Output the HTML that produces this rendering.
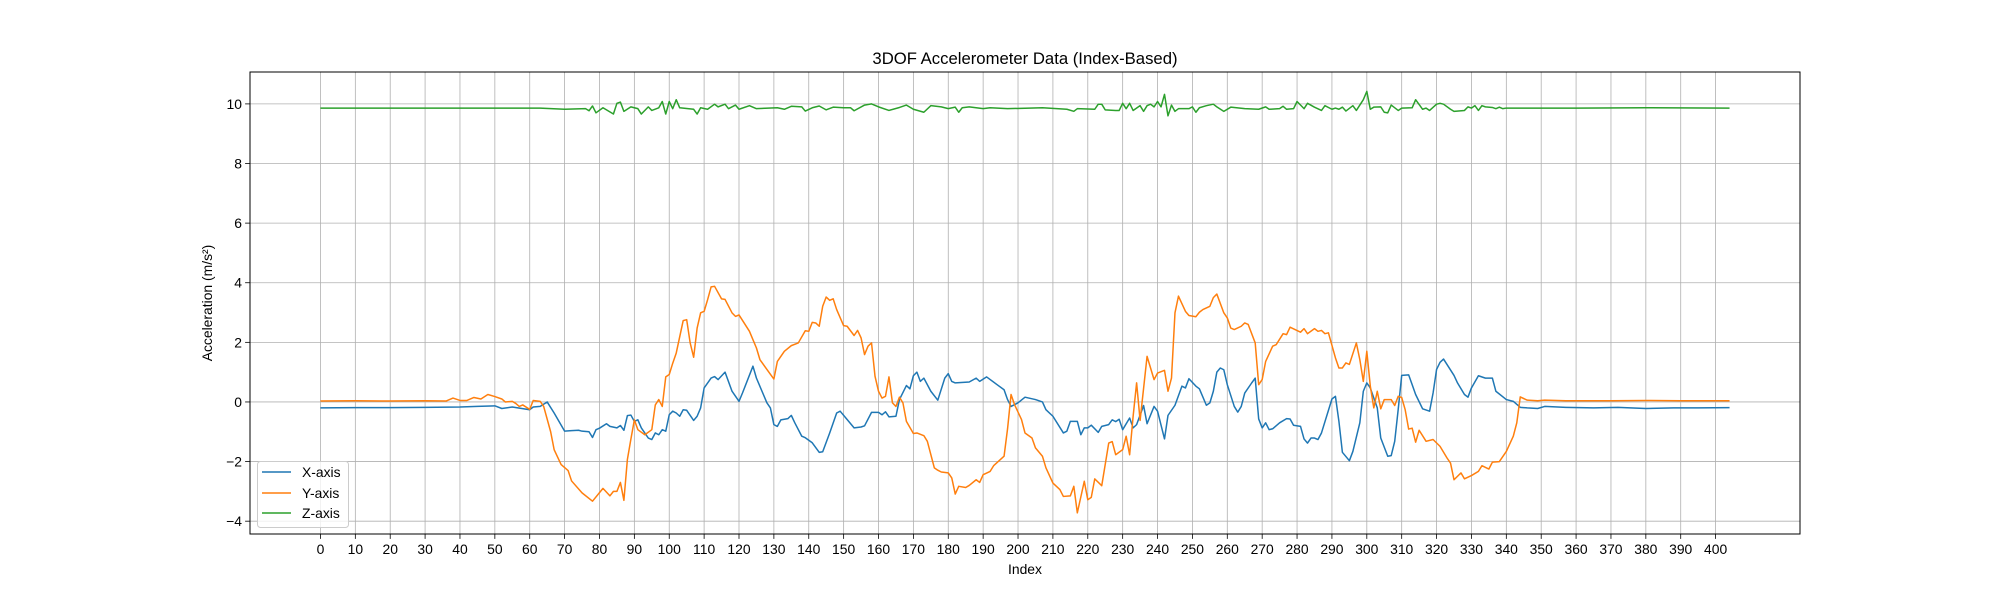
<!DOCTYPE html>
<html><head><meta charset="utf-8"><style>
body{margin:0;background:#fff;}
svg{display:block;font-family:"Liberation Sans","DejaVu Sans",sans-serif;}
</style></head><body>
<svg id="chart" width="2000" height="600" viewBox="0 0 2000 600" xmlns="http://www.w3.org/2000/svg">
<rect width="2000" height="600" fill="#fff"/>
<text x="1025" y="64" text-anchor="middle" font-size="16.7">3DOF Accelerometer Data (Index-Based)</text>
<g id="grid"></g>
<g id="series"></g>
<rect x="250" y="72" width="1550" height="462" fill="none" stroke="#000" stroke-width="1"/>
<g id="ticks"></g>
<text x="1025" y="574" text-anchor="middle" font-size="13.9">Index</text>
<text transform="translate(212,303) rotate(-90)" text-anchor="middle" font-size="13.9">Acceleration (m/s²)</text>
<g>
<rect x="257.5" y="461.5" width="91" height="66" rx="3" fill="#fff" fill-opacity="0.8" stroke="#ccc"/>
<line x1="262" y1="472" x2="291" y2="472" stroke="#1f77b4" stroke-width="1.5"/>
<text x="302" y="477" font-size="13.9">X-axis</text>
<line x1="262" y1="493" x2="291" y2="493" stroke="#ff7f0e" stroke-width="1.5"/>
<text x="302" y="498" font-size="13.9">Y-axis</text>
<line x1="262" y1="513" x2="291" y2="513" stroke="#2ca02c" stroke-width="1.5"/>
<text x="302" y="518" font-size="13.9">Z-axis</text>
</g>
</svg>
<script>
const xTicks=[0,10,20,30,40,50,60,70,80,90,100,110,120,130,140,150,160,170,180,190,200,210,220,230,240,250,260,270,280,290,300,310,320,330,340,350,360,370,380,390,400];
const yTicks=[-4,-2,0,2,4,6,8,10];
const xIdx=[0,10,20,30,40,45,50,52,55,60,61,63,65,67,70,72,74,75,77,78,79,80,82,83,85,86,87,88,89,90,91,92,94,95,96,97,98,99,100,101,102,103,104,105,107,108,109,110,112,113,114,116,118,120,121,124,125,128,129,130,131,132,134,135,136,138,139,141,143,144,146,148,149,151,153,155,156,158,160,161,162,163,165,166,168,169,170,171,172,173,175,177,179,180,181,182,186,188,189,191,194,196,197,198,200,202,205,207,208,210,213,214,215,217,218,219,220,221,223,224,226,227,228,229,230,232,233,234,236,237,239,240,242,243,245,247,248,249,251,252,254,255,256,257,258,259,260,262,263,264,265,267,268,269,270,271,272,273,275,277,278,279,281,282,283,284,285,286,287,290,291,292,293,295,296,298,299,300,301,303,304,306,307,308,309,310,312,313,314,316,318,319,320,321,322,325,326,328,329,330,332,334,336,337,340,342,344,346,349,351,357,365,372,380,388,395,404];
const xVals=[-0.2,-0.19,-0.19,-0.18,-0.17,-0.15,-0.13,-0.22,-0.17,-0.26,-0.17,-0.15,0.0,-0.37,-0.98,-0.96,-0.95,-0.98,-1.0,-1.19,-0.93,-0.88,-0.73,-0.82,-0.87,-0.79,-0.95,-0.46,-0.44,-0.65,-0.6,-0.87,-1.21,-1.26,-1.04,-1.1,-0.93,-0.98,-0.43,-0.31,-0.37,-0.48,-0.26,-0.28,-0.62,-0.48,-0.2,0.47,0.8,0.85,0.75,1.0,0.36,0.02,0.3,1.2,0.8,-0.03,-0.2,-0.76,-0.82,-0.6,-0.56,-0.45,-0.7,-1.15,-1.2,-1.37,-1.69,-1.67,-1.04,-0.37,-0.31,-0.59,-0.87,-0.84,-0.8,-0.35,-0.35,-0.43,-0.33,-0.5,-0.48,0.08,0.55,0.44,0.88,1.0,0.69,0.8,0.36,0.06,0.8,0.95,0.69,0.64,0.67,0.8,0.69,0.84,0.58,0.41,0.08,-0.15,-0.03,0.16,0.08,0.0,-0.26,-0.48,-1.04,-0.98,-0.65,-0.65,-1.1,-0.87,-0.87,-0.78,-1.02,-0.82,-0.76,-0.6,-0.66,-0.58,-0.93,-0.54,-0.87,-0.76,-0.12,-0.73,-0.15,-0.31,-1.24,-0.45,-0.11,0.53,0.47,0.78,0.53,0.44,-0.11,-0.03,0.36,1.0,1.14,1.08,0.58,-0.15,-0.34,-0.15,0.3,0.64,0.8,-0.57,-0.87,-0.7,-0.93,-0.9,-0.7,-0.56,-0.57,-0.78,-0.82,-1.24,-1.38,-1.21,-1.21,-1.26,-1.04,0.1,0.19,-0.65,-1.69,-1.97,-1.66,-0.7,0.36,0.64,0.47,-0.2,-1.21,-1.82,-1.8,-1.32,-0.25,0.89,0.91,0.58,0.25,-0.23,-0.31,0.3,1.09,1.33,1.44,0.89,0.64,0.25,0.16,0.47,0.88,0.8,0.8,0.36,0.08,0.02,-0.18,-0.2,-0.22,-0.15,-0.18,-0.2,-0.18,-0.22,-0.2,-0.2,-0.19];
const yIdx=[0,10,20,30,36,38,40,42,44,46,48,50,52,53,55,56,57,58,60,61,63,64,66,67,69,71,72,75,78,81,83,84,85,86,87,88,89,90,91,93,95,96,97,98,99,100,101,102,104,105,106,107,108,109,110,111,112,113,115,116,118,119,120,123,124,125,126,128,130,131,133,135,137,139,140,141,142,143,144,145,146,147,148,150,151,153,154,155,156,157,158,159,160,161,162,163,164,165,166,167,168,170,171,173,174,176,177,178,180,181,182,183,185,186,188,189,190,192,193,196,197,198,199,201,202,204,205,207,208,210,212,213,215,216,217,219,220,221,222,224,226,227,228,230,231,232,233,234,235,237,239,240,242,243,244,245,246,248,249,251,252,253,255,256,257,259,260,261,262,264,265,266,268,269,270,271,273,274,276,277,278,281,282,283,285,286,287,288,289,291,292,293,294,295,297,298,299,300,301,302,303,304,305,307,308,309,310,311,312,313,314,315,317,319,321,323,324,325,327,328,330,332,333,335,336,338,340,342,343,344,346,349,351,357,370,380,390,404];
const yVals=[0.03,0.04,0.03,0.04,0.03,0.13,0.05,0.05,0.15,0.1,0.25,0.18,0.1,0.0,0.02,-0.05,-0.15,-0.1,-0.25,0.05,0.02,-0.15,-1.0,-1.6,-2.1,-2.3,-2.65,-3.05,-3.33,-2.9,-3.15,-3.0,-3.0,-2.7,-3.3,-1.93,-1.25,-0.6,-0.93,-1.1,-0.93,-0.1,0.08,-0.15,0.84,0.92,1.3,1.64,2.73,2.76,1.98,1.5,2.48,2.99,3.04,3.43,3.86,3.88,3.46,3.44,2.99,2.87,2.92,2.37,2.09,1.81,1.42,1.09,0.77,1.36,1.7,1.89,1.98,2.39,2.37,2.67,2.65,2.54,3.21,3.52,3.41,3.46,3.1,2.56,2.54,2.23,2.4,2.15,1.59,1.87,1.98,0.86,0.36,0.13,0.19,0.84,-0.03,-0.15,0.16,-0.03,-0.65,-1.06,-1.04,-1.13,-1.32,-2.21,-2.29,-2.35,-2.38,-2.55,-3.09,-2.83,-2.87,-2.8,-2.61,-2.7,-2.44,-2.33,-2.14,-1.82,-0.9,0.25,-0.09,-0.59,-1.04,-1.21,-1.54,-1.82,-2.21,-2.72,-2.94,-3.17,-3.15,-2.83,-3.72,-2.66,-3.28,-3.2,-2.58,-2.81,-1.38,-1.33,-1.77,-1.6,-1.15,-1.77,-0.48,0.64,-0.62,1.53,0.75,0.97,1.06,0.36,0.8,2.99,3.55,3.04,2.9,2.86,3.01,3.1,3.21,3.5,3.62,2.99,2.82,2.48,2.43,2.54,2.65,2.6,1.98,0.58,0.75,1.36,1.87,1.92,2.29,2.26,2.51,2.34,2.46,2.29,2.46,2.37,2.4,2.29,2.32,1.48,1.14,1.14,1.31,1.26,1.98,1.42,0.69,1.7,0.53,-0.2,0.36,-0.23,0.08,0.08,-0.12,0.19,0.15,-0.26,-0.91,-0.88,-1.35,-0.95,-1.32,-1.26,-1.49,-1.88,-2.05,-2.61,-2.38,-2.58,-2.47,-2.33,-2.14,-2.25,-2.02,-2.0,-1.66,-1.15,-0.7,0.17,0.06,0.04,0.06,0.04,0.04,0.05,0.04,0.04];
const zIdx=[0,63,70,76,77,78,79,81,84,85,86,87,89,91,92,94,95,97,98,99,100,101,102,103,107,108,109,111,113,114,116,117,119,120,123,125,131,133,135,138,139,141,143,145,147,150,152,153,156,158,160,163,166,168,170,173,175,178,180,182,183,184,186,190,192,197,207,214,216,217,222,223,224,225,228,229,230,231,232,233,235,236,237,238,239,240,241,242,243,244,245,246,249,250,251,252,254,256,257,259,261,265,269,271,272,275,276,277,279,280,282,283,285,287,288,290,291,292,293,294,296,297,299,300,301,302,304,305,306,307,309,310,313,314,316,317,318,320,321,322,324,325,328,329,330,331,332,333,334,336,337,338,339,340,360,380,404];
const zVals=[9.86,9.86,9.82,9.84,9.77,9.93,9.70,9.87,9.66,10.02,10.06,9.75,9.90,9.84,9.66,9.90,9.78,9.87,10.08,9.66,10.08,9.84,10.14,9.87,9.82,9.66,9.87,9.82,9.99,9.90,9.99,9.84,9.96,9.82,9.94,9.84,9.87,9.82,9.92,9.90,9.76,9.87,9.93,9.80,9.89,9.87,9.87,9.77,9.96,10.0,9.90,9.78,9.88,9.96,9.82,9.72,9.94,9.90,9.84,9.89,9.72,9.87,9.90,9.84,9.87,9.84,9.87,9.82,9.75,9.84,9.82,9.99,9.99,9.80,9.78,9.78,10.02,9.84,10.02,9.78,9.94,9.75,9.94,9.99,9.90,10.08,9.90,10.32,9.60,9.96,9.75,9.84,9.84,9.90,9.72,9.87,9.94,9.99,9.90,9.75,9.89,9.84,9.82,9.90,9.82,9.84,9.92,9.82,9.84,10.08,9.84,10.02,9.89,9.78,9.94,9.82,9.86,9.82,9.89,9.76,9.94,9.78,10.14,10.42,9.82,9.89,9.90,9.72,9.70,9.96,9.78,9.86,9.87,10.14,9.82,9.86,9.78,9.99,10.02,9.99,9.82,9.75,9.78,9.90,9.86,9.94,9.78,9.94,9.90,9.88,9.84,9.89,9.84,9.86,9.86,9.87,9.86];

const X0=250,X1=1800,Y0=72,Y1=534,xmin=-20.2,xmax=424.2,ymin=-4.43,ymax=11.07;
function sx(v){return X0+(v-xmin)/(xmax-xmin)*(X1-X0);}
function sy(v){return Y1-(v-ymin)/(ymax-ymin)*(Y1-Y0);}
const NS='http://www.w3.org/2000/svg';
function mk(tag,attrs,parent){const e=document.createElementNS(NS,tag);for(const k in attrs)e.setAttribute(k,attrs[k]);parent.appendChild(e);return e;}
const grid=document.getElementById('grid'),ticks=document.getElementById('ticks'),series=document.getElementById('series');
xTicks.forEach(t=>{
  const x=sx(t);
  const g=mk('line',{x1:x,y1:Y0,x2:x,y2:Y1,stroke:'#b0b0b0','stroke-width':0.8},grid);
  
  
  const tk=mk('line',{x1:x,y1:Y1,x2:x,y2:Y1+4.9,stroke:'#000','stroke-width':0.8},ticks);
  
  
  const tl=mk('text',{x:x,y:Y1+20,'text-anchor':'middle','font-size':13.9},ticks);
  tl.textContent=String(t);
  
  
});
yTicks.forEach(t=>{
  const y=sy(t);
  const g=mk('line',{x1:X0,y1:y,x2:X1,y2:y,stroke:'#b0b0b0','stroke-width':0.8},grid);
  
  
  const tk=mk('line',{x1:X0-4.9,y1:y,x2:X0,y2:y,stroke:'#000','stroke-width':0.8},ticks);
  
  
  const tl=mk('text',{x:X0-8,y:y+5,'text-anchor':'end','font-size':13.9},ticks);
  tl.textContent=(t<0?'\u2212'+(-t):String(t));
  
  
});
function line(idx,vals,color,name){
  const d=idx.map((i,k)=>(k?'L':'M')+sx(i).toFixed(2)+','+sy(vals[k]).toFixed(2)).join('');
  const p=mk('path',{d:d,fill:'none',stroke:color,'stroke-width':1.5,'stroke-linejoin':'round'},series);
  
  
}
line(xIdx,xVals,'#1f77b4','x-axis-line');
line(yIdx,yVals,'#ff7f0e','y-axis-line');
line(zIdx,zVals,'#2ca02c','z-axis-line');
</script>
</body></html>
